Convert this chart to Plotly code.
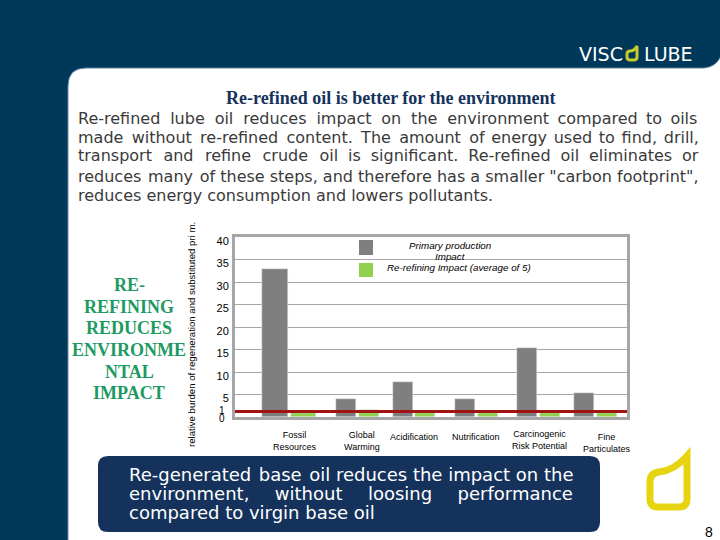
import plotly.graph_objects as go

WIDTH = 720
HEIGHT = 540

NAVY = "#00385a"
CALLOUT = "#14325c"
GRAY = "#7f7f7f"
GREEN = "#92d050"
RED = "#a01414"
GRID = "#a6a6a6"
BODY_FONT = "DejaVu Sans"
SERIF = "Liberation Serif"
SANS = "Liberation Sans"

CATEGORIES = ["Fossil Resources", "Global Warming", "Acidification",
              "Nutrification", "Carcinogenic Risk Potential", "Fine Particulates"]
PRIMARY_IMPACT = [33, 4, 7.8, 4, 15.3, 5.3]
REFINING_IMPACT = [1, 1.5, 1, 1, 1, 1]
RED_LEVEL = 1.25

Y_TICKS = [5, 10, 15, 20, 25, 30, 35, 40]
LOW_TICKS = [1.5, 0]
LOW_TICK_LABELS = ["1", "0"]

X_LABELS = ["Fossil<br>Resources", "Global<br>Warming", "Acidification",
            "Nutrification", "Carcinogenic<br>Risk Potential", "Fine<br>Particulates"]

HEADING = "Re-refined oil is better for the environment"
BODY_LINES = [
    "Re-refined lube oil reduces impact on the environment compared to oils",
    "made without re-refined content. The amount of energy used to find, drill,",
    "transport and refine crude oil is significant. Re-refined oil eliminates or",
    "reduces many of these steps, and therefore has a smaller \"carbon footprint\",",
    "reduces energy consumption and lowers pollutants.",
]
SIDE_LINES = ["RE-", "REFINING", "REDUCES", "ENVIRONME", "NTAL", "IMPACT"]
CALLOUT_LINES = [
    "Re-generated base oil reduces the impact on the",
    "environment, without loosing performance",
    "compared to virgin base oil",
]
Y_TITLE = "relative burden of regeneration and substituted pri m."


def px_x(x):
    return x / WIDTH


def px_y(y):
    return 1 - y / HEIGHT


def path(cmds):
    # cmds are pixel positions on the slide, turned into paper coordinates
    out = []
    for c in cmds:
        letter, pts = c[0], c[1:]
        out.append(letter + " ".join(f"{px_x(a):.5f},{px_y(b):.5f}" for a, b in pts))
    return " ".join(out) + " Z"


def label(text, x, y, size, color="#000000", family=SANS, anchor="center", **kw):
    return dict(text=text, x=px_x(x), y=px_y(y), xref="paper", yref="paper",
                xanchor=anchor, yanchor="middle", showarrow=False,
                font=dict(size=size, color=color, family=family), **kw)


def justify(line, hairs):
    # hair spaces stretch the word gaps the way the justified slide text does
    words = line.split(" ")
    gaps = len(words) - 1
    out = words[0]
    for i, word in enumerate(words[1:]):
        extra = hairs // gaps + (1 if i < hairs % gaps else 0)
        out += " " + "\u200a" * extra + word
    return out


fig = go.Figure()

fig.add_bar(x=CATEGORIES, y=PRIMARY_IMPACT, marker_color=GRAY,
            width=[0.436, 0.335, 0.335, 0.335, 0.335, 0.335],
            offset=[-0.602, -0.361, -0.404, -0.364, -0.324, -0.367],
            name="Primary production Impact")
fig.add_bar(x=CATEGORIES, y=REFINING_IMPACT, marker_color=GREEN,
            width=[0.42, 0.335, 0.335, 0.335, 0.335, 0.335],
            offset=[-0.116, 0.025, -0.035, 0.022, 0.062, 0.018],
            name="Re-refining Impact (average of 5)")

shapes = [
    dict(type="rect", xref="paper", yref="paper", x0=0, x1=1, y0=0, y1=1,
         fillcolor=NAVY, line_width=0, layer="below"),
    dict(type="path", xref="paper", yref="paper", layer="below", fillcolor="white",
         line=dict(color="#5f86a0", width=1),
         path=path([("M", (68, 541)), ("L", (68, 86)), ("Q", (68, 68), (86, 68)),
                    ("L", (704, 68)), ("Q", (716, 67), (721, 56)), ("L", (721, 541))])),
    dict(type="path", xref="paper", yref="paper", layer="below", fillcolor=CALLOUT, line_width=0,
         path=path([("M", (108, 456)), ("L", (590, 456)), ("Q", (600, 456), (600, 466)),
                    ("L", (600, 522)), ("Q", (600, 532), (590, 532)), ("L", (108, 532)),
                    ("Q", (98, 532), (98, 522)), ("L", (98, 466)), ("Q", (98, 456), (108, 456))])),
    # big leaf logo, bottom right
    dict(type="path", xref="paper", yref="paper", fillcolor="rgba(0,0,0,0)",
         line=dict(color="#e6d411", width=7),
         path=path([("M", (687, 456)), ("C", (680, 464), (670, 471), (659, 472)),
                    ("Q", (650, 473), (650, 482)), ("L", (650, 499)), ("Q", (650, 507), (658, 507)),
                    ("L", (679, 507)), ("Q", (687, 507), (687, 499))])),
    # small leaf in the wordmark
    dict(type="path", xref="paper", yref="paper", fillcolor="rgba(0,0,0,0)",
         line=dict(color="#c9cb2a", width=3),
         path=path([("M", (637, 46)), ("C", (635, 50), (632, 51), (630, 51)),
                    ("Q", (627, 51), (627, 54)), ("L", (627, 57)), ("Q", (627, 60), (630, 60)),
                    ("L", (634, 60)), ("Q", (637, 60), (637, 57))])),
    # legend swatches
    dict(type="rect", xref="paper", yref="paper", fillcolor=GRAY, line_width=0,
         x0=px_x(359), x1=px_x(373), y0=px_y(255), y1=px_y(240)),
    dict(type="rect", xref="paper", yref="paper", fillcolor=GREEN, line_width=0,
         x0=px_x(359), x1=px_x(373), y0=px_y(277), y1=px_y(263)),
    # the level everything is compared against
    dict(type="line", xref="x domain", yref="y", x0=0, x1=1, y0=RED_LEVEL, y1=RED_LEVEL,
         line=dict(color=RED, width=3)),
]

annotations = [
    label(f"<b>{HEADING}</b>", 391, 98, 18, CALLOUT, SERIF),
    label("VISC", 577, 54, 19, "white", BODY_FONT, "left"),
    label("LUBE", 642, 54, 19, "white", BODY_FONT, "left"),
    label(Y_TITLE, 191, 335, 9.6, textangle=-90),
    label("<i>Primary production</i>", 450, 245, 9.8),
    label("<i>Impact</i>", 450, 256, 9.8),
    label("<i>Re-refining Impact (average of 5)</i>", 459, 268, 9.8),
    label("8", 709, 532, 14),
]

body_y = [118, 137, 156, 176, 195]
body_hairs = [27, 17, 34, 2, 0]
for line, y, hairs in zip(BODY_LINES, body_y, body_hairs):
    annotations.append(label(justify(line, hairs), 76, y, 16, "#3a3a3a", BODY_FONT, "left"))

side_y = [285, 307, 328, 350, 372, 393]
for line, y in zip(SIDE_LINES, side_y):
    annotations.append(label(f"<b>{line}</b>", 129, y, 18, "#1d9a62", SERIF))

callout_y = [474, 493, 512]
callout_hairs = [2, 33, 0]
for line, y, hairs in zip(CALLOUT_LINES, callout_y, callout_hairs):
    annotations.append(label(justify(line, hairs), 127, y, 18, "white", BODY_FONT, "left"))

# axis labels sit a little off their groups on the slide
label_shift = [-3, 4.5, -3, -0.7, 2.7, 11]
label_y = [441, 441, 437, 437, 440, 443]
for cat, text, dx, y in zip(CATEGORIES, X_LABELS, label_shift, label_y):
    annotations.append(dict(text=text, x=cat, xref="x", xshift=dx, y=px_y(y), yref="paper",
                            showarrow=False, yanchor="middle", font=dict(size=9, family=SANS, color="#000")))

for val, text, dy in zip(LOW_TICKS, LOW_TICK_LABELS, [0, -1]):
    annotations.append(dict(text=text, x=px_x(222), xref="paper", xanchor="center", y=val, yref="y",
                            yshift=dy, showarrow=False, yanchor="middle", borderpad=0,
                            font=dict(size=10, family=SANS, color="#000")))

fig.update_layout(
    width=WIDTH,
    height=HEIGHT,
    margin=dict(l=0, r=0, t=0, b=0),
    paper_bgcolor="white",
    plot_bgcolor="rgba(0,0,0,0)",
    showlegend=False,
    bargap=0,
    shapes=shapes,
    annotations=annotations,
)
fig.update_xaxes(
    domain=[px_x(235), px_x(627)],
    range=[-1.055, 5.52],
    showticklabels=False,
    ticks="",
    showline=True,
    mirror=True,
    linecolor=GRID,
    linewidth=3,
    showgrid=False,
    automargin=False,
)
fig.update_yaxes(
    domain=[px_y(417), px_y(237)],
    range=[0, 40],
    tickvals=Y_TICKS,
    ticks="",
    ticklabelshift=4,
    ticklabelstandoff=1,
    tickfont=dict(size=11, family=SANS, color="#000000"),
    showline=True,
    mirror=True,
    linecolor=GRID,
    linewidth=3,
    gridcolor=GRID,
    gridwidth=1,
    zeroline=False,
    automargin=False,
)

# pin the plot to the window corner, the page's default flow pushes it down and right
pin_plot = (
    "var g=document.querySelector('.plotly-graph-div');"
    "g.style.position='absolute';g.style.top='0';g.style.left='0';"
    "document.body.style.margin='0';document.body.style.overflow='hidden';"
)
fig.write_html("out.html", config={"displayModeBar": False}, post_script=pin_plot)
